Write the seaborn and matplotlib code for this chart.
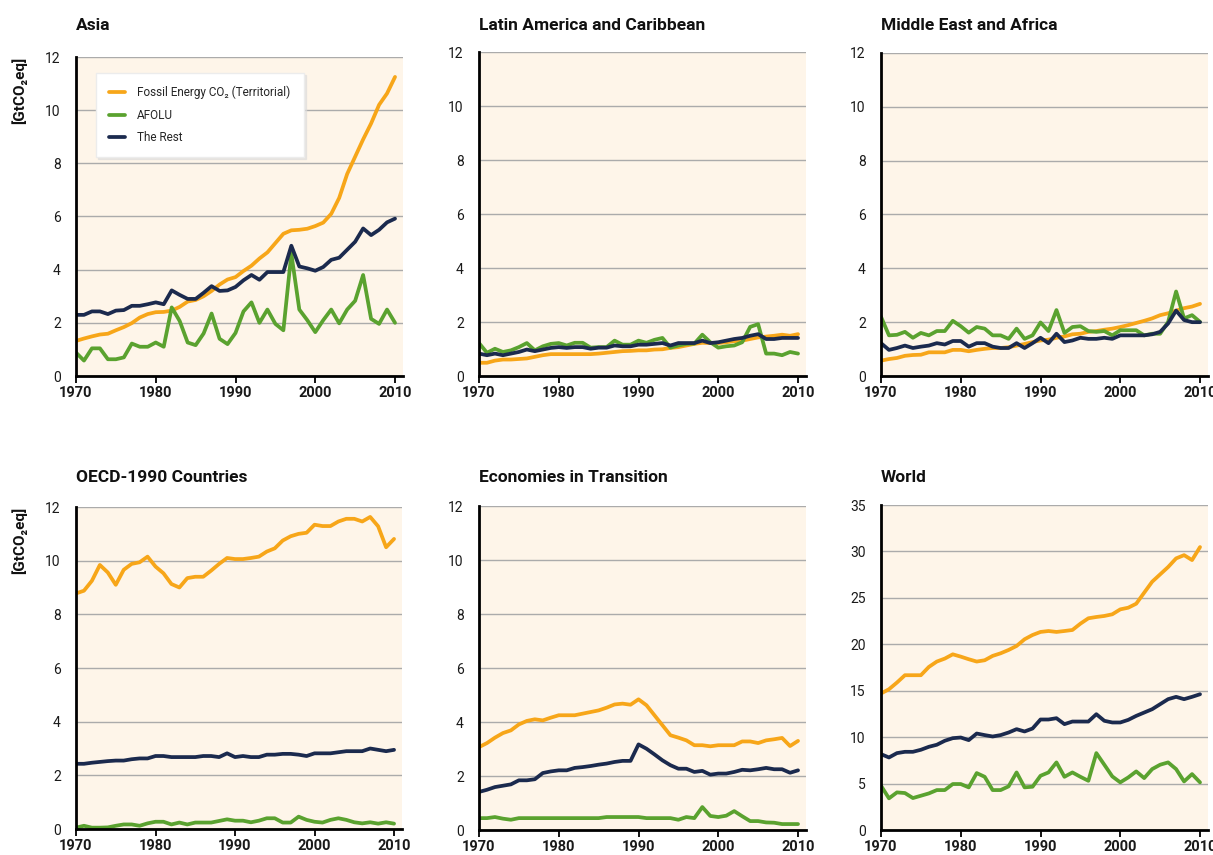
import matplotlib
matplotlib.use('Agg')
import matplotlib.pyplot as plt
import seaborn as sns
import pandas as pd

YEARS = list(range(1970, 2011))
SERIES = ['Fossil Energy CO₂ (Territorial)', 'AFOLU', 'The Rest']
X_TICKS = [1970, 1980, 1990, 2000, 2010]

asia_fossil = [1.32, 1.41, 1.49, 1.56, 1.59, 1.72, 1.84, 1.99, 2.2, 2.33, 2.4, 2.41, 2.46, 2.6, 2.8,
               2.86, 3.0, 3.2, 3.44, 3.63, 3.72, 3.95, 4.15, 4.42, 4.65, 5.0, 5.35, 5.48, 5.5, 5.54,
               5.64, 5.77, 6.1, 6.7, 7.6, 8.25, 8.9, 9.5, 10.2, 10.63, 11.25]
asia_afolu = [0.88, 0.58, 1.04, 1.04, 0.63, 0.63, 0.7, 1.22, 1.1, 1.1, 1.26, 1.1, 2.58, 2.07, 1.26,
              1.16, 1.6, 2.35, 1.4, 1.2, 1.62, 2.43, 2.77, 2.0, 2.5, 1.96, 1.72, 4.6, 2.5, 2.1,
              1.65, 2.1, 2.5, 1.98, 2.5, 2.83, 3.8, 2.15, 1.96, 2.5, 2.0]
asia_rest = [2.3, 2.3, 2.43, 2.43, 2.33, 2.46, 2.48, 2.64, 2.64, 2.7, 2.77, 2.7, 3.22, 3.05, 2.9,
             2.9, 3.13, 3.38, 3.2, 3.22, 3.35, 3.6, 3.8, 3.62, 3.91, 3.91, 3.91, 4.9, 4.12, 4.05,
             3.96, 4.1, 4.37, 4.45, 4.75, 5.05, 5.55, 5.3, 5.5, 5.78, 5.92]

latam_fossil = [0.49, 0.49, 0.57, 0.61, 0.61, 0.63, 0.65, 0.71, 0.77, 0.81, 0.81, 0.81, 0.81, 0.81, 0.81,
                0.83, 0.86, 0.89, 0.92, 0.93, 0.95, 0.95, 0.98, 0.99, 1.04, 1.07, 1.13, 1.19, 1.23, 1.22,
                1.22, 1.25, 1.29, 1.31, 1.37, 1.43, 1.46, 1.49, 1.53, 1.49, 1.55]
latam_afolu = [1.22, 0.86, 1.01, 0.89, 0.95, 1.07, 1.22, 0.95, 1.1, 1.19, 1.22, 1.13, 1.23, 1.23, 1.05,
               1.07, 1.07, 1.31, 1.16, 1.16, 1.31, 1.23, 1.34, 1.41, 1.05, 1.13, 1.19, 1.2, 1.53, 1.25,
               1.05, 1.1, 1.13, 1.25, 1.82, 1.92, 0.83, 0.83, 0.77, 0.89, 0.83]
latam_rest = [0.83, 0.77, 0.83, 0.77, 0.83, 0.89, 0.98, 0.92, 0.98, 1.04, 1.07, 1.04, 1.07, 1.07, 1.01,
              1.05, 1.05, 1.13, 1.1, 1.1, 1.16, 1.16, 1.19, 1.22, 1.13, 1.22, 1.22, 1.22, 1.31, 1.22,
              1.25, 1.31, 1.37, 1.41, 1.49, 1.55, 1.37, 1.37, 1.41, 1.41, 1.41]

mea_fossil = [0.57, 0.63, 0.67, 0.75, 0.78, 0.79, 0.88, 0.88, 0.88, 0.97, 0.97, 0.92, 0.97, 1.01, 1.04,
              1.04, 1.07, 1.13, 1.19, 1.26, 1.32, 1.35, 1.42, 1.47, 1.55, 1.57, 1.64, 1.67, 1.72, 1.76,
              1.82, 1.89, 1.97, 2.05, 2.14, 2.26, 2.33, 2.43, 2.52, 2.58, 2.68]
mea_afolu = [2.2, 1.51, 1.53, 1.64, 1.42, 1.6, 1.51, 1.67, 1.67, 2.05, 1.85, 1.61, 1.82, 1.76, 1.51,
             1.51, 1.38, 1.76, 1.38, 1.51, 1.99, 1.67, 2.45, 1.6, 1.82, 1.85, 1.67, 1.64, 1.67, 1.51,
             1.7, 1.7, 1.7, 1.51, 1.57, 1.57, 2.01, 3.14, 2.14, 2.26, 2.01]
mea_rest = [1.22, 0.97, 1.04, 1.13, 1.04, 1.09, 1.13, 1.22, 1.17, 1.3, 1.3, 1.09, 1.22, 1.22, 1.09,
            1.04, 1.04, 1.22, 1.04, 1.22, 1.42, 1.22, 1.57, 1.26, 1.32, 1.42, 1.38, 1.38, 1.42, 1.38,
            1.51, 1.51, 1.51, 1.51, 1.55, 1.64, 1.95, 2.43, 2.08, 2.0, 2.0]

oecd_fossil = [8.78, 8.88, 9.25, 9.84, 9.56, 9.1, 9.66, 9.88, 9.94, 10.15, 9.78, 9.53, 9.13, 9.0, 9.35,
               9.4, 9.4, 9.63, 9.88, 10.1, 10.06, 10.06, 10.1, 10.15, 10.34, 10.46, 10.75, 10.91, 11.0, 11.04,
               11.34, 11.29, 11.29, 11.46, 11.56, 11.56, 11.46, 11.63, 11.28, 10.5, 10.81]
oecd_afolu = [0.05, 0.12, 0.05, 0.05, 0.06, 0.12, 0.17, 0.17, 0.12, 0.21, 0.27, 0.27, 0.17, 0.24, 0.17,
              0.24, 0.24, 0.24, 0.3, 0.36, 0.31, 0.31, 0.25, 0.31, 0.4, 0.4, 0.24, 0.24, 0.46, 0.34,
              0.27, 0.24, 0.34, 0.4, 0.34, 0.25, 0.21, 0.25, 0.2, 0.25, 0.2]
oecd_rest = [2.43, 2.43, 2.47, 2.5, 2.53, 2.55, 2.55, 2.6, 2.63, 2.63, 2.72, 2.72, 2.68, 2.68, 2.68,
             2.68, 2.72, 2.72, 2.68, 2.82, 2.68, 2.72, 2.68, 2.68, 2.77, 2.77, 2.8, 2.8, 2.77, 2.72,
             2.82, 2.82, 2.82, 2.86, 2.9, 2.9, 2.9, 3.0, 2.95, 2.9, 2.95]

eit_fossil = [3.07, 3.22, 3.42, 3.59, 3.69, 3.91, 4.04, 4.1, 4.06, 4.16, 4.25, 4.25, 4.25, 4.31, 4.37,
              4.43, 4.53, 4.65, 4.68, 4.64, 4.84, 4.62, 4.25, 3.88, 3.51, 3.42, 3.32, 3.14, 3.14, 3.1,
              3.14, 3.14, 3.14, 3.28, 3.28, 3.22, 3.32, 3.36, 3.41, 3.11, 3.3]
eit_afolu = [0.44, 0.44, 0.48, 0.42, 0.38, 0.44, 0.44, 0.44, 0.44, 0.44, 0.44, 0.44, 0.44, 0.44, 0.44,
             0.44, 0.48, 0.48, 0.48, 0.48, 0.48, 0.44, 0.44, 0.44, 0.44, 0.38, 0.48, 0.44, 0.85, 0.52,
             0.48, 0.53, 0.7, 0.51, 0.33, 0.33, 0.28, 0.27, 0.22, 0.22, 0.22]
eit_rest = [1.41, 1.49, 1.59, 1.64, 1.69, 1.84, 1.84, 1.88, 2.11, 2.17, 2.21, 2.21, 2.3, 2.33, 2.37,
            2.42, 2.46, 2.52, 2.56, 2.56, 3.17, 3.01, 2.8, 2.58, 2.4, 2.27, 2.27, 2.15, 2.19, 2.05,
            2.09, 2.09, 2.15, 2.23, 2.21, 2.25, 2.3, 2.25, 2.25, 2.12, 2.21]

world_fossil = [14.7, 15.16, 15.88, 16.67, 16.67, 16.67, 17.56, 18.14, 18.46, 18.92, 18.67, 18.39, 18.14, 18.28, 18.75,
                19.03, 19.39, 19.82, 20.54, 21.0, 21.33, 21.43, 21.33, 21.43, 21.54, 22.22, 22.8, 22.94, 23.05, 23.23,
                23.76, 23.94, 24.37, 25.56, 26.74, 27.53, 28.32, 29.25, 29.6, 29.07, 30.47]
world_afolu = [4.77, 3.41, 4.05, 3.98, 3.44, 3.69, 3.94, 4.3, 4.3, 4.95, 4.95, 4.59, 6.13, 5.73, 4.3,
               4.3, 4.7, 6.2, 4.59, 4.66, 5.84, 6.2, 7.28, 5.73, 6.2, 5.73, 5.3, 8.28, 7.03, 5.77,
               5.13, 5.66, 6.31, 5.59, 6.56, 7.03, 7.28, 6.56, 5.23, 6.02, 5.13]
world_rest = [8.17, 7.81, 8.28, 8.42, 8.42, 8.64, 8.96, 9.18, 9.61, 9.89, 9.96, 9.68, 10.39, 10.22, 10.07,
              10.22, 10.5, 10.86, 10.61, 10.93, 11.9, 11.9, 12.04, 11.4, 11.68, 11.68, 11.68, 12.47, 11.76, 11.58,
              11.58, 11.86, 12.29, 12.65, 13.01, 13.55, 14.09, 14.34, 14.09, 14.34, 14.62]

COLORS = {SERIES[0]: '#F7A619', SERIES[1]: '#5AA22F', SERIES[2]: '#1B2A4E'}
BG = '#FEF5E9'
GRID = '#ABABAB'
YLABEL = '[GtCO₂eq]'

sns.set_theme(style='white')
plt.rcParams['font.family'] = ['Roboto', 'DejaVu Sans']

W, H = 1213, 855
fig = plt.figure(figsize=(W / 100, H / 100), dpi=100)

# (title, fossil, afolu, rest, ymax, ystep, left, top, right, bottom, title_y, ylabel)
panels = [
    ('Asia', asia_fossil, asia_afolu, asia_rest, 12, 2, 76, 57, 403, 376, 25, True),
    ('Latin America and Caribbean', latam_fossil, latam_afolu, latam_rest, 12, 2, 479, 52, 806, 376, 25, False),
    ('Middle East and Africa', mea_fossil, mea_afolu, mea_rest, 12, 2, 881, 53, 1208, 376, 25, False),
    ('OECD-1990 Countries', oecd_fossil, oecd_afolu, oecd_rest, 12, 2, 76, 507, 402, 829, 477, True),
    ('Economies in Transition', eit_fossil, eit_afolu, eit_rest, 12, 2, 479, 506, 806, 830, 477, False),
    ('World', world_fossil, world_afolu, world_rest, 35, 5, 881, 505, 1208, 830, 477, False),
]

for i, (title, fos, afo, rest, ymax, ystep, l, t, r, b, ty, has_ylab) in enumerate(panels):
    ax = fig.add_axes([l / W, 1 - b / H, (r - l) / W, (b - t) / H])
    df = pd.DataFrame({
        'year': YEARS * 3,
        'value': fos + afo + rest,
        'series': [s for s in SERIES for _ in YEARS],
    })
    sns.lineplot(data=df, x='year', y='value', hue='series', hue_order=SERIES,
                 palette=COLORS, linewidth=2.7, ax=ax, legend=False, errorbar=None)
    ax.set_facecolor(BG)
    ax.set_xlim(1970, 2011)
    ax.set_ylim(0, ymax)
    ax.set_yticks(list(range(0, ymax + 1, ystep)))
    ax.set_xticks(X_TICKS)
    ax.set_xlabel('')
    ax.set_ylabel('')
    ax.grid(axis='y', color=GRID, linewidth=1.0)
    ax.grid(axis='x', visible=False)
    ax.set_axisbelow(True)
    for s in ['top', 'right']:
        ax.spines[s].set_visible(False)
    for s in ['left', 'bottom']:
        ax.spines[s].set_visible(True)
        ax.spines[s].set_color('black')
        ax.spines[s].set_linewidth(2.0)
    ax.tick_params(axis='x', bottom=True, direction='out', length=5, width=1.3,
                   color='black', pad=2, labelsize=10.5, labelcolor='#1a1a1a')
    ax.tick_params(axis='y', left=False, length=0, pad=11, labelsize=10, labelcolor='#1a1a1a')
    for lab in ax.get_xticklabels():
        lab.set_fontweight('bold')
    fig.text(l / W, 1 - ty / H, title, fontsize=12.5, fontweight='bold',
             ha='left', va='center', color='#111111')
    if has_ylab:
        fig.text(19 / W, 1 - t / H, YLABEL, rotation=90, fontsize=11,
                 fontweight='bold', ha='center', va='top', color='#111111')
    if i == 0:
        handles = ax.get_lines()[:3]
        ax.legend(handles, SERIES, loc='upper left', bbox_to_anchor=(0.061, 0.95),
                  frameon=True, fancybox=False, facecolor='white', edgecolor='#ececec',
                  framealpha=1, fontsize=8.5, handlelength=1.4, handletextpad=1.0,
                  labelspacing=0.8, borderpad=1.1, borderaxespad=0,
                  shadow={'color': '#dcdcdc', 'alpha': 0.6, 'ox': 1.5, 'oy': -1.5})

fig.savefig('out.png', dpi=100)
